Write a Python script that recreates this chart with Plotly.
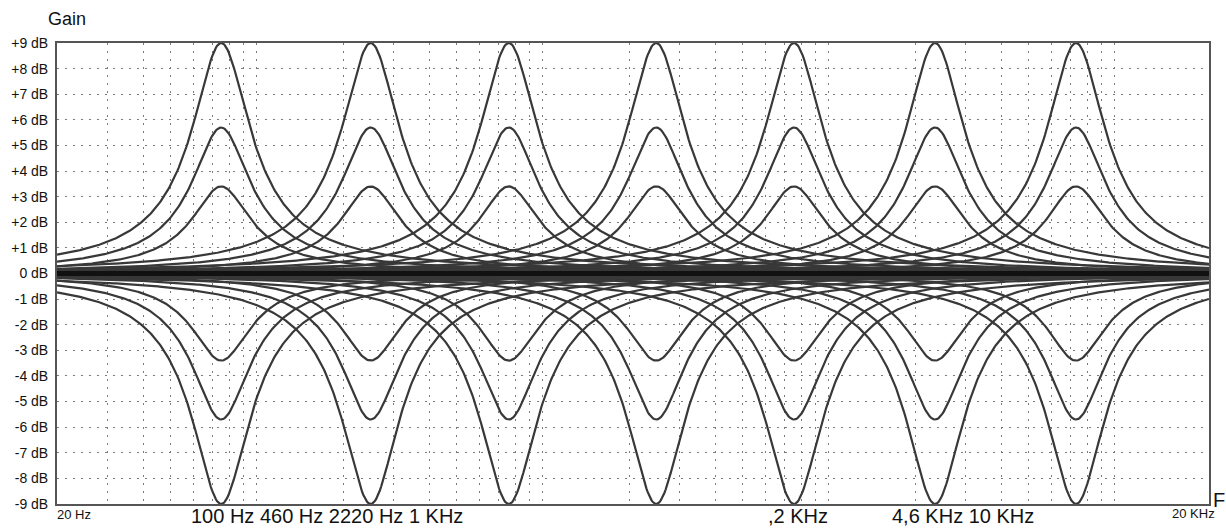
import numpy as np
import plotly.graph_objects as go

band_centres_hz = [75, 250, 760, 2490, 7550, 23500, 73100]
band_gains_db = [9, 5.7, 3.4, -3.4, -5.7, -9]
# bell width (decades) and tail exponent of the bell shape
bell_width_dec = 0.11
bell_power = 0.75

gain_ticks = [9, 8, 7, 6, 5, 4, 3, 2, 1, 0, -1, -2, -3, -4, -5, -6, -7, -8, -9]
gain_labels = ["+9 dB", "+8 dB", "+7 dB", "+6 dB", "+5 dB", "+4 dB", "+3 dB", "+2 dB", "+1 dB", "0 dB",
               "-1 dB", "-2 dB", "-3 dB", "-4 dB", "-5 dB", "-6 dB", "-7 dB", "-8 dB", "-9 dB"]
freq_grid_hz = [m * 10 ** e for e in range(1, 5) for m in range(1, 10) if m * 10 ** e > 20] + [100000]
freq_labels_small = ["20 Hz", "20 KHz"]
freq_labels_big = ["100 Hz 460 Hz 2220 Hz 1 KHz", ",2 KHz", "4,6 KHz 10 KHz"]

FONT = "Liberation Sans, Arial, sans-serif"
W, H = 1226, 528
L, R, T, B = 57, 17, 43, 24
f_lo = 20.0
x_range = [np.log10(f_lo), np.log10(f_lo) + (W - L - R) / 286.0]

freqs = np.logspace(x_range[0], x_range[1], 900)

fig = go.Figure()

for fc in band_centres_hz:
    d = np.log10(freqs / fc)
    shape = (1 + (d / bell_width_dec) ** 2) ** (-bell_power)
    for g in band_gains_db:
        fig.add_trace(go.Scatter(x=freqs, y=g * shape, mode="lines",
                                 line=dict(color="#383838", width=2.2),
                                 hoverinfo="skip", showlegend=False))

# 0 dB base line
fig.add_trace(go.Scatter(x=[freqs[0], freqs[-1]], y=[0, 0], mode="lines",
                         line=dict(color="#111", width=5), hoverinfo="skip", showlegend=False))


def px_x(px):
    return (px - L) / (W - L - R)


def px_y(py):
    return (H - B - py) / (H - T - B)


ann = [
    dict(text="Gain", x=px_x(46), y=px_y(19), xanchor="left", size=18),
    dict(text=freq_labels_small[0], x=px_x(55), y=px_y(514), xanchor="left", size=13),
    dict(text=freq_labels_small[1], x=px_x(1217), y=px_y(513), xanchor="right", size=13),
    dict(text=freq_labels_big[0], x=px_x(189), y=px_y(516), xanchor="left", size=20),
    dict(text=freq_labels_big[1], x=px_x(766), y=px_y(516), xanchor="left", size=20),
    dict(text=freq_labels_big[2], x=px_x(890), y=px_y(516), xanchor="left", size=20),
    dict(text="F", x=px_x(1211), y=px_y(500), xanchor="left", size=20),
]
for a in ann:
    fig.add_annotation(text=a["text"], x=a["x"], y=a["y"], xref="paper", yref="paper",
                       xanchor=a["xanchor"], yanchor="middle", showarrow=False,
                       font=dict(family=FONT, size=a["size"], color="#111"))

fig.update_xaxes(type="log", range=x_range, tickvals=freq_grid_hz, showticklabels=False,
                 ticks="", showgrid=True, gridcolor="#7a7a7a", gridwidth=1, griddash="2px,6px",
                 showline=True, linecolor="#555", linewidth=2, mirror=True, zeroline=False)
fig.update_yaxes(range=[-9, 9], tickvals=gain_ticks, ticktext=gain_labels, ticks="",
                 showgrid=True, gridcolor="#7a7a7a", gridwidth=1, griddash="2px,6px",
                 showline=True, linecolor="#555", linewidth=2, mirror=True, zeroline=False,
                 tickfont=dict(family=FONT, size=14, color="#111"), ticklabelstandoff=4)

fig.update_layout(width=W, height=H, margin=dict(l=L, r=R, t=T, b=B),
                  paper_bgcolor="white", plot_bgcolor="white", showlegend=False)

# drop the default page margin so the figure sits at the window's corner
fig.write_html("out.html", config={"displayModeBar": False},
               post_script="document.body.style.margin='0';document.body.style.overflow='hidden';")
